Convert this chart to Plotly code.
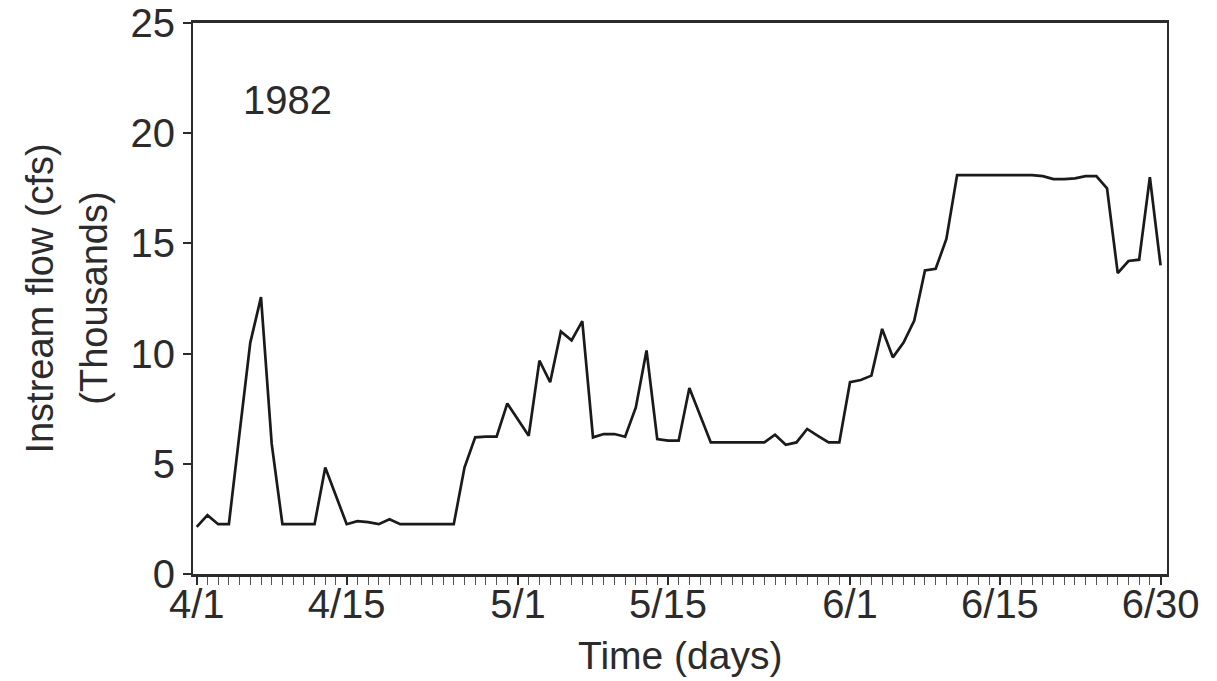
import plotly.graph_objects as go

# Daily instream flow, 4/1 through 6/30 (thousands of cfs)
days = list(range(91))
flow = [
    2.14, 2.67, 2.26, 2.26, 6.4, 10.5, 12.56, 5.9, 2.26, 2.26,   # 4/1 - 4/10
    2.26, 2.26, 4.83, 3.55, 2.26, 2.4, 2.35, 2.26, 2.48, 2.26,   # 4/11 - 4/20
    2.26, 2.26, 2.26, 2.26, 2.26, 4.83, 6.2, 6.23, 6.23, 7.74,   # 4/21 - 4/30
    7.0, 6.27, 9.68, 8.7, 11.0, 10.6, 11.47, 6.2, 6.35, 6.35,    # 5/1 - 5/10
    6.23, 7.56, 10.14, 6.12, 6.05, 6.05, 8.44, 7.2, 5.97, 5.97,  # 5/11 - 5/20
    5.97, 5.97, 5.97, 5.97, 6.32, 5.86, 5.97, 6.58, 6.27, 5.97,  # 5/21 - 5/30
    5.97, 8.7, 8.8, 9.0, 11.12, 9.83, 10.5, 11.5, 13.77, 13.85,  # 5/31 - 6/9
    15.2, 18.1, 18.1, 18.1, 18.1, 18.1, 18.1, 18.1, 18.1, 18.05, # 6/10 - 6/19
    17.92, 17.92, 17.95, 18.05, 18.05, 17.5, 13.65, 14.2, 14.26, 18.0,  # 6/20 - 6/29
    14.0,                                                        # 6/30
]

tick_days = [0, 14, 30, 44, 61, 75, 90]
tick_text = ["4/1", "4/15", "5/1", "5/15", "6/1", "6/15", "6/30"]
y_ticks = [0, 5, 10, 15, 20, 25]

FONT = "Liberation Sans, Arial, Helvetica, sans-serif"
INK = "#2b2b2b"

fig = go.Figure(
    go.Scatter(
        x=days, y=flow, mode="lines",
        line=dict(color="#1a1a1a", width=2.7),
        hoverinfo="skip",
    )
)

fig.update_layout(
    width=1217, height=681,
    margin=dict(l=193, r=50, t=23, b=107),
    paper_bgcolor="white", plot_bgcolor="white",
    showlegend=False,
    font=dict(family=FONT, size=39, color=INK),
    xaxis=dict(
        range=[-0.35, 90.6],
        automargin=False,
        tickmode="array", tickvals=tick_days, ticktext=tick_text,
        ticks="outside", ticklen=8, tickwidth=1.5, tickcolor=INK,
        minor=dict(dtick=1, tick0=0, ticks="outside", ticklen=8,
                   tickwidth=1.2, tickcolor="#555"),
        showline=True, linecolor=INK, linewidth=2.5, mirror=True,
        showgrid=False, zeroline=False,
        ticklabelstandoff=-15,
        tickfont=dict(size=40),
    ),
    yaxis=dict(
        range=[0, 25],
        automargin=False,
        tickmode="array", tickvals=y_ticks,
        ticks="outside", ticklen=8, tickwidth=1.5, tickcolor=INK,
        showline=True, linecolor=INK, linewidth=2, mirror=True,
        showgrid=False, zeroline=False,
        tickfont=dict(size=40),
    ),
    annotations=[
        dict(text="1982", xref="paper", yref="paper", x=0.0975, y=0.86,
             xanchor="center", yanchor="middle",
             showarrow=False, font=dict(size=40)),
        dict(text="Time (days)", xref="paper", yref="paper", x=0.5, y=-0.148,
             xanchor="center", yanchor="middle",
             showarrow=False, font=dict(size=39)),
        dict(text="Instream flow (cfs)", xref="paper", yref="paper",
             x=-0.158, y=0.5, textangle=-90, showarrow=False,
             xanchor="center", yanchor="middle", font=dict(size=38)),
        dict(text="(Thousands)", xref="paper", yref="paper",
             x=-0.1025, y=0.5, textangle=-90, showarrow=False,
             xanchor="center", yanchor="middle", font=dict(size=38)),
    ],
)

fig.write_html("out.html")
